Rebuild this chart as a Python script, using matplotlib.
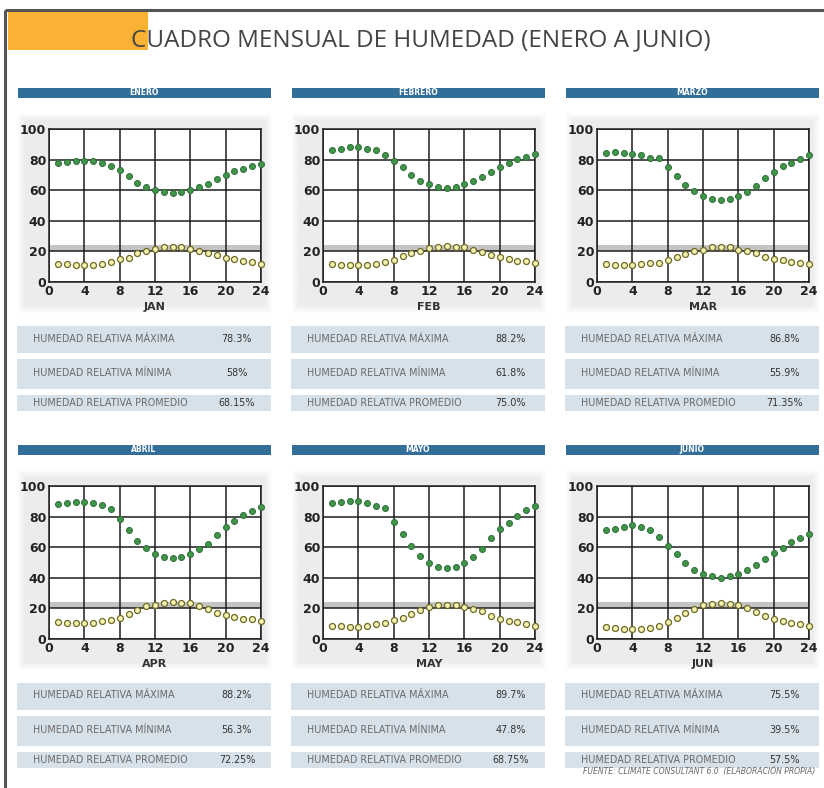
import numpy as np
import matplotlib
matplotlib.use("Agg")
import matplotlib.pyplot as plt
from matplotlib.patches import Rectangle

# ---- datos: humedad horaria (1..24 h) por mes, Climate Consultant ----
horas = list(range(1, 25))

meses = ["ENERO", "FEBRERO", "MARZO", "ABRIL", "MAYO", "JUNIO"]
abrev = ["JAN", "FEB", "MAR", "APR", "MAY", "JUN"]

hum_ene = [78, 78.6, 79.3, 79, 79, 78, 76, 73, 69, 65, 62, 60,
           59, 58, 59, 60, 62, 64, 67, 70, 72.5, 74, 76, 77]
hum_feb = [86, 87, 88, 88, 87, 86, 83, 79, 75, 70, 66, 64,
           62.4, 61.3, 62.4, 64, 65.7, 68.7, 72, 75, 78, 80.3, 82, 83.6]
hum_mar = [84.3, 84.8, 84.3, 83.9, 83.3, 81.3, 81.3, 75.3, 69.3, 63.5, 59.4, 56.2,
           54.3, 53.6, 54.3, 56.2, 58.8, 62.7, 67.8, 71.9, 75.8, 78.1, 80.5, 83.3]
hum_abr = [88.2, 88.6, 89.3, 89.3, 88.6, 87.6, 85.2, 78.2, 71.4, 64.2, 59.4, 55.5,
           53.9, 53, 53.9, 55.5, 59, 62.4, 68, 72.9, 76.9, 80.8, 83.8, 86]
hum_may = [88.7, 89.3, 90, 90, 89.1, 86.7, 85.6, 76.7, 68.9, 60.7, 54.4, 49.8,
           47.3, 46.7, 47.3, 49.8, 53.6, 58.7, 65.8, 71.6, 75.8, 80.7, 84, 87.1]
hum_jun = [71, 72, 73.5, 74.2, 72.9, 71, 66.7, 61.1, 55.5, 49.5, 45.4, 42.2,
           40.9, 40, 40.9, 42.2, 44.9, 48.2, 52.5, 56.1, 59.8, 63.7, 65.8, 68.4]

temp_ene = [12, 11.7, 11, 10.8, 10.8, 11.7, 12.8, 14.8, 16, 18.7, 20.3, 21.8,
            22.7, 22.7, 22.7, 21.8, 20.3, 19, 17.4, 16, 14.8, 13.9, 12.8, 12]
temp_feb = [12, 11.4, 11.4, 11.4, 11.4, 12, 13.2, 14.7, 16.8, 18.8, 20.5, 22.2,
            23.1, 23.5, 23.1, 22.7, 20.7, 19.7, 17.5, 16.4, 15.3, 14, 13.4, 12.5]
temp_mar = [12, 11.4, 11.4, 11.4, 12, 12.7, 12.7, 14.6, 16.5, 18.2, 20.2, 21.2,
            22.7, 22.7, 22.7, 21.2, 20.2, 18.9, 16.5, 15, 14.6, 13.3, 12.7, 12]
temp_abr = [10.9, 10.3, 10.3, 10.3, 10.3, 11.6, 12.2, 14, 16.4, 19, 21.4, 22.5,
            23.8, 24.2, 23.8, 23.4, 21.4, 19.9, 17.2, 15.9, 14.6, 13.3, 12.9, 12]
temp_may = [8.2, 8.2, 7.8, 7.8, 8.2, 9.6, 10.2, 12.2, 14, 16.4, 18.9, 20.9,
            22, 22.4, 22, 20.9, 19.8, 18, 15.3, 13.3, 12, 10.9, 9.6, 8.7]
temp_jun = [7.7, 7.1, 6.5, 6.5, 6.5, 7.5, 8.8, 11.2, 14, 17, 19.6, 22.2,
            22.8, 23.7, 22.8, 22.2, 20.2, 17.4, 15.1, 13.1, 11.8, 10.3, 9.7, 8.4]

hr_max = ["78.3%", "88.2%", "86.8%", "88.2%", "89.7%", "75.5%"]
hr_min = ["58%", "61.8%", "55.9%", "56.3%", "47.8%", "39.5%"]
hr_prom = ["68.15%", "75.0%", "71.35%", "72.25%", "68.75%", "57.5%"]

filas = ["HUMEDAD RELATIVA MÁXIMA", "HUMEDAD RELATIVA MÍNIMA",
         "HUMEDAD RELATIVA PROMEDIO"]

humedad = [hum_ene, hum_feb, hum_mar, hum_abr, hum_may, hum_jun]
temperatura = [temp_ene, temp_feb, temp_mar, temp_abr, temp_may, temp_jun]

# ---- lienzo en pixeles ----
W, H = 824, 788
fig = plt.figure(figsize=(W / 100, H / 100), dpi=100)
fig.patch.set_facecolor("white")

bg = fig.add_axes([0, 0, 1, 1], zorder=0)
bg.set_xlim(0, W)
bg.set_ylim(H, 0)
bg.axis("off")


def ax_px(x0, y0, x1, y1):
    return fig.add_axes([x0 / W, 1 - y1 / H, (x1 - x0) / W, (y1 - y0) / H], zorder=2)


# marco y encabezado
bg.plot([5, W], [10, 10], color="#555555", lw=2.2, solid_capstyle="butt")
bg.plot([5, 5], [10, H], color="#555555", lw=2.2, solid_capstyle="butt")
bg.add_patch(Rectangle((8, 12), 140, 38, color="#f9b233", lw=0))
bg.text(421, 40, "CUADRO MENSUAL DE HUMEDAD (ENERO A JUNIO)", ha="center",
        va="center", fontsize=17.5, color="#444444", family="Open Sans")

# fondo gris difuminado de cada grafico
ph, pw = 200, 256
yy, xx = np.mgrid[0:ph, 0:pw]
d = np.minimum(np.minimum(xx, pw - 1 - xx), np.minimum(yy, ph - 1 - yy))
panel = 1 - 0.075 * np.clip(d / 8.0, 0, 1)

col_x = [17, 291, 565]
fila_y = [0, 357]

for i, mes in enumerate(meses):
    cx = col_x[i % 3]
    oy = fila_y[i // 3]

    # barra con el nombre del mes
    bg.add_patch(Rectangle((cx + 1, 88 + oy), 253, 9.5, color="#336e99", lw=0))
    bg.text(cx + 127, 92.8 + oy, mes, ha="center", va="center", fontsize=5.5,
            color="white", fontweight="bold")

    bg.imshow(panel, cmap="gray", vmin=0, vmax=1, aspect="auto",
              extent=(cx, cx + 256, 314 + oy, 112 + oy), interpolation="bilinear")

    # grafico horario
    ax = ax_px(cx + 32, 129 + oy, cx + 244, 282 + oy)
    ax.set_xlim(0, 24)
    ax.set_ylim(0, 100)
    ax.axhspan(20, 24, color="#c4c4c4", lw=0, zorder=1)
    ax.set_xticks(range(0, 25, 4))
    ax.set_yticks(range(0, 101, 20))
    ax.grid(True, color="#1e1e1e", lw=1.1, zorder=2)
    for s in ax.spines.values():
        s.set_color("#1e1e1e")
        s.set_linewidth(1.1)
    ax.tick_params(length=0, pad=2, labelsize=9, labelcolor="#222222")
    for lab in ax.get_xticklabels() + ax.get_yticklabels():
        lab.set_fontweight("bold")
    ax.set_xlabel(abrev[i], fontsize=8, fontweight="bold", color="#333333",
                  labelpad=3)
    ax.plot(horas, humedad[i], "o", ms=4.3, mfc="#40954a", mec="#2d7036",
            mew=0.7, zorder=3, clip_on=False)
    ax.plot(horas, temperatura[i], "o", ms=4.3, mfc="#f4f2b4", mec="#6e6a22",
            mew=0.9, zorder=3, clip_on=False)

    # tabla de resumen
    valores = [hr_max[i], hr_min[i], hr_prom[i]]
    filas_px = [(326, 353), (359, 389), (395, 411)]
    for (y0, y1), nombre, val in zip(filas_px, filas, valores):
        bg.add_patch(Rectangle((cx, y0 + oy), 254, y1 - y0, color="#d7e1ea", lw=0))
        ym = (y0 + y1) / 2 + oy - (1 if y1 - y0 > 20 else 0)
        bg.text(cx + 16, ym, nombre, ha="left", va="center", fontsize=6.9,
                color="#6a6a6a")
        bg.text(cx + 220, ym, val, ha="center", va="center", fontsize=6.9,
                color="#333333")

bg.text(815, 771, "FUENTE: CLIMATE CONSULTANT 6.0  (ELABORACIÓN PROPIA)",
        ha="right", va="center", fontsize=5.5, style="italic", color="#666666")

fig.savefig("out.png", dpi=100)
